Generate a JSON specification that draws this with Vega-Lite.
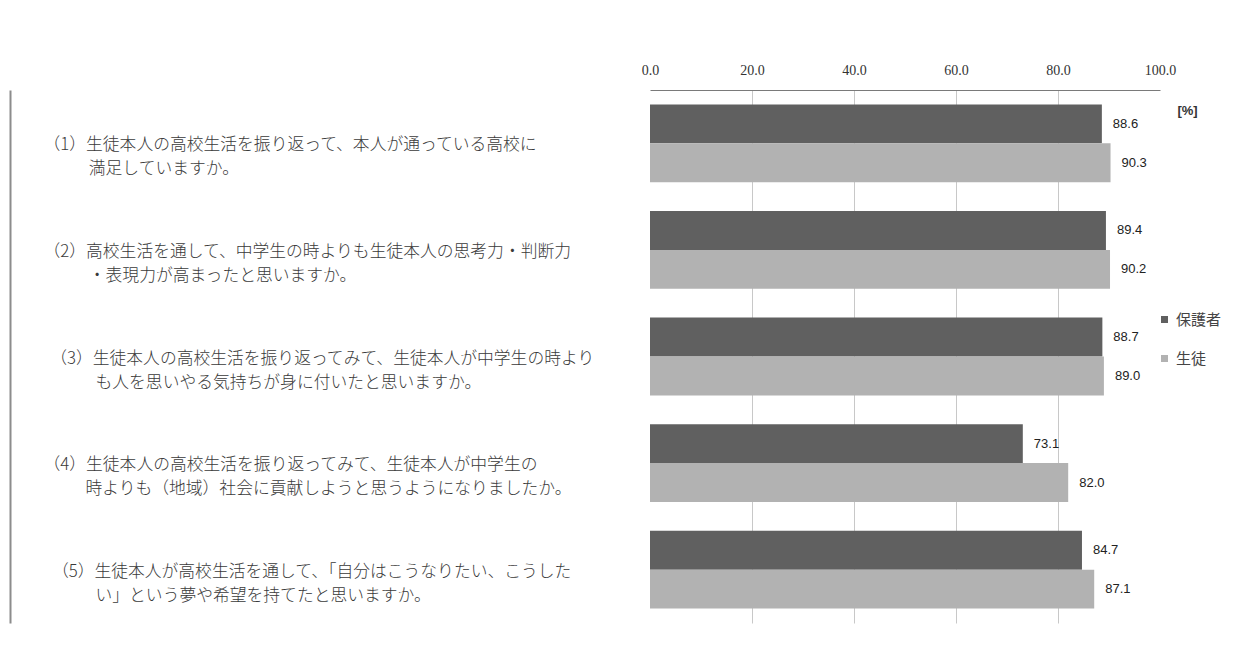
{
  "$schema": "https://vega.github.io/schema/vega-lite/v6.json",
  "width": 510,
  "height": 533,
  "autosize": "none",
  "padding": {"left": 650, "top": 90, "right": 82, "bottom": 35},
  "background": "white",
  "data": {
    "values": [
      {"question": "（1）生徒本人の高校生活を振り返って、本人が通っている高校に|\u200b　　\u2002\u2009満足していますか。", "series": "保護者", "value": 88.6},
      {"question": "（1）生徒本人の高校生活を振り返って、本人が通っている高校に|\u200b　　\u2002\u2009満足していますか。", "series": "生徒", "value": 90.3},
      {"question": "（2）高校生活を通して、中学生の時よりも生徒本人の思考力・判断力|\u200b　　\u2002\u2009・表現力が高まったと思いますか。", "series": "保護者", "value": 89.4},
      {"question": "（2）高校生活を通して、中学生の時よりも生徒本人の思考力・判断力|\u200b　　\u2002\u2009・表現力が高まったと思いますか。", "series": "生徒", "value": 90.2},
      {"question": "\u200b\u2009\u2009（3）生徒本人の高校生活を振り返ってみて、生徒本人が中学生の時より|\u200b　　\u2002\u2009\u2009\u2009も人を思いやる気持ちが身に付いたと思いますか。", "series": "保護者", "value": 88.7},
      {"question": "\u200b\u2009\u2009（3）生徒本人の高校生活を振り返ってみて、生徒本人が中学生の時より|\u200b　　\u2002\u2009\u2009\u2009も人を思いやる気持ちが身に付いたと思いますか。", "series": "生徒", "value": 89.0},
      {"question": "（4）生徒本人の高校生活を振り返ってみて、生徒本人が中学生の|\u200b　　\u2002時よりも（地域）社会に貢献しようと思うようになりましたか。", "series": "保護者", "value": 73.1},
      {"question": "（4）生徒本人の高校生活を振り返ってみて、生徒本人が中学生の|\u200b　　\u2002時よりも（地域）社会に貢献しようと思うようになりましたか。", "series": "生徒", "value": 82.0},
      {"question": "\u200b\u2002（5）生徒本人が高校生活を通して、「自分はこうなりたい、こうした|\u200b　　\u2002\u2009\u2009\u2009い」という夢や希望を持てたと思いますか。", "series": "保護者", "value": 84.7},
      {"question": "\u200b\u2002（5）生徒本人が高校生活を通して、「自分はこうなりたい、こうした|\u200b　　\u2002\u2009\u2009\u2009い」という夢や希望を持てたと思いますか。", "series": "生徒", "value": 87.1}
    ]
  },
  "encoding": {
    "y": {
      "field": "question",
      "type": "nominal",
      "sort": null,
      "scale": {"paddingInner": 0.27, "paddingOuter": 0.135},
      "axis": {
        "orient": "left",
        "offset": 640,
        "title": null,
        "domain": true,
        "domainColor": "#8c8c8c",
        "domainWidth": 2,
        "ticks": false,
        "tickSize": 0,
        "grid": false,
        "labelAlign": "left",
        "labelBaseline": "middle",
        "labelPadding": -33,
        "labelExpr": "split(datum.label, '|')",
        "labelLineHeight": 24,
        "labelFont": "Noto Sans CJK JP",
        "labelFontSize": 16.8,
        "labelFontWeight": 300,
        "labelColor": "#3a3a3a",
        "labelLimit": 900,
        "labelOffset": 2
      }
    },
    "yOffset": {
      "field": "series",
      "type": "nominal",
      "scale": {"domain": ["保護者", "生徒"], "paddingInner": 0, "paddingOuter": 0}
    },
    "x": {
      "field": "value",
      "type": "quantitative",
      "scale": {"domain": [0, 100]},
      "axis": {
        "orient": "top",
        "values": [0, 20, 40, 60, 80, 100],
        "format": ".1f",
        "title": "[%]",
        "titleX": 537,
        "titleY": 20,
        "titleAlign": "center",
        "titleBaseline": "middle",
        "titleAngle": 0,
        "titleFontSize": 13,
        "titleFontWeight": "bold",
        "titleColor": "#333333",
        "titleFont": "Liberation Sans",
        "labelFont": "Liberation Serif",
        "labelFontSize": 14,
        "labelColor": "#333333",
        "labelPadding": 13,
        "labelFlush": false,
        "ticks": false,
        "tickSize": 0,
        "domainColor": "#7a7a7a",
        "domainWidth": 1,
        "grid": true,
        "gridColor": "#c8c8c8",
        "gridOpacity": {"condition": {"test": "datum.value === 0 || datum.value === 100", "value": 0}, "value": 1}
      }
    }
  },
  "layer": [
    {
      "mark": {"type": "bar", "strokeWidth": 0},
      "encoding": {
        "color": {
          "field": "series",
          "type": "nominal",
          "scale": {"domain": ["保護者", "生徒"], "range": ["#606060", "#b2b2b2"]},
          "legend": {
            "title": null,
            "orient": "none",
            "legendX": 507,
            "legendY": 222,
            "padding": 0,
            "symbolType": "square",
            "symbolSize": 49,
            "symbolStrokeWidth": 0,
            "labelFont": "Noto Sans CJK JP",
            "labelFontSize": 15,
            "labelColor": "#444444",
            "labelOffset": 4,
            "rowPadding": 23
          }
        }
      }
    },
    {
      "mark": {"type": "text", "align": "left", "baseline": "middle", "dx": 11, "fontSize": 13, "font": "Liberation Sans", "color": "#222222"},
      "encoding": {
        "text": {"field": "value", "type": "quantitative", "format": ".1f"}
      }
    }
  ],
  "config": {"view": {"stroke": null}}
}
